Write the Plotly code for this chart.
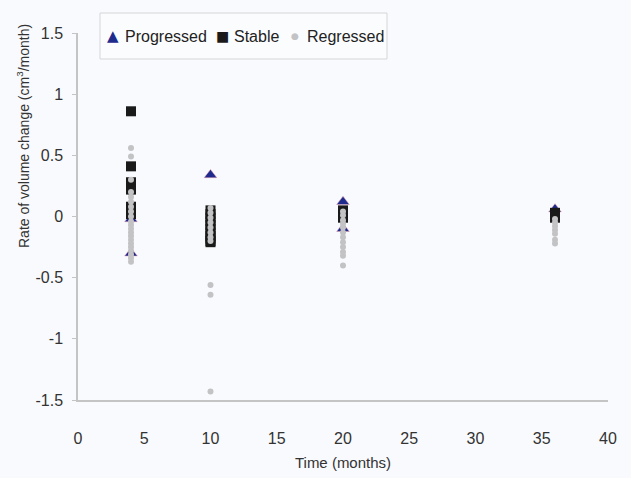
import plotly.graph_objects as go

# Rate of volume change by follow-up time, grouped by outcome
prog_x = [4, 4, 10, 20, 20, 36]
prog_y = [-0.02, -0.30, 0.34, 0.12, -0.10, 0.06]

stable_x = [4, 4, 4, 4, 4, 4, 4, 4,
            10, 10, 10, 10, 10, 10, 10, 10, 10, 10, 10,
            20, 20, 20, 20,
            36, 36, 36]
stable_y = [0.86, 0.41, 0.28, 0.25, 0.22, 0.08, 0.05, 0.02,
            0.05, 0.02, -0.01, -0.04, -0.07, -0.10, -0.13, -0.16, -0.18, -0.20, -0.21,
            0.05, 0.03, 0.01, -0.01,
            0.03, 0.01, -0.01]

reg_x = [4] * 21 + [10] * 11 + [20] * 12 + [36] * 7
reg_y = [0.56, 0.49, 0.30, 0.20, 0.16, 0.12, 0.08, 0.04, 0.00, -0.04, -0.07,
         -0.10, -0.13, -0.16, -0.19, -0.22, -0.25, -0.28, -0.31, -0.34, -0.37,
         0.07, 0.03, -0.01, -0.05, -0.09, -0.13, -0.17, -0.20, -0.56, -0.64, -1.43,
         0.04, 0.01, -0.03, -0.06, -0.09, -0.13, -0.17, -0.21, -0.25, -0.29, -0.32, -0.40,
         -0.02, -0.05, -0.08, -0.11, -0.14, -0.19, -0.22]

x_ticks = [0, 5, 10, 15, 20, 25, 30, 35, 40]
y_ticks = [-1.5, -1, -0.5, 0, 0.5, 1, 1.5]

series_names = ["Progressed", "Stable", "Regressed"]
series_colors = ["#1e2a8c", "#1a1a1a", "#c3c3c6"]
series_glyphs = ["▲", "■", "●"]

FONT = "Liberation Sans, Arial, sans-serif"
AXIS_GREY = "#c4c4c4"
BG = "#f9fafd"

# plot area in pixels, used to place the boxed key above the data
L, R, T, B = 78, 23, 33, 78
W, H = 631, 478
PW, PH = W - L - R, H - T - B


def px(x):
    return (x - L) / PW


def py(y):
    return (H - B - y) / PH


fig = go.Figure()
fig.add_trace(go.Scatter(
    x=prog_x, y=prog_y, mode="markers", name=series_names[0],
    marker=dict(symbol="triangle-up", size=11, color=series_colors[0],
                line=dict(width=0.5, color="#e8a0b0")),
))
fig.add_trace(go.Scatter(
    x=stable_x, y=stable_y, mode="markers", name=series_names[1],
    marker=dict(symbol="square", size=10, color=series_colors[1]),
))
fig.add_trace(go.Scatter(
    x=reg_x, y=reg_y, mode="markers", name=series_names[2],
    marker=dict(symbol="circle", size=6, color=series_colors[2]),
))

# key: glyph + label, laid out in a single boxed row
key_glyph_x = [113, 222, 295]
key_text_x = [123, 232, 305]
key_glyph_size = [15, 14, 9]
key_y = 36
annotations = []
for name, color, glyph, gx, tx, gs in zip(series_names, series_colors, series_glyphs,
                                          key_glyph_x, key_text_x, key_glyph_size):
    annotations.append(dict(
        text=glyph, xref="paper", yref="paper", x=px(gx), y=py(key_y),
        xanchor="center", yanchor="middle", showarrow=False,
        font=dict(family="DejaVu Sans", size=gs, color=color)))
    annotations.append(dict(
        text=name, xref="paper", yref="paper", x=px(tx), y=py(key_y),
        xanchor="left", yanchor="middle", showarrow=False,
        font=dict(family=FONT, size=16, color="#222222")))

annotations.append(dict(
    text="Rate of volume change (cm<sup>3</sup>/month)", textangle=-90,
    xref="paper", yref="paper", x=px(23), y=py(136),
    xanchor="center", yanchor="middle", showarrow=False,
    font=dict(family=FONT, size=14, color="#333333")))

fig.update_layout(
    width=W, height=H,
    margin=dict(l=L, r=R, t=T, b=B, autoexpand=False),
    paper_bgcolor=BG, plot_bgcolor=BG,
    font=dict(family=FONT, size=16, color="#333333"),
    showlegend=False,
    xaxis=dict(
        range=[0, 40], tickvals=x_ticks, ticktext=[str(v) for v in x_ticks],
        showgrid=False, zeroline=False, showline=True, linecolor=AXIS_GREY,
        linewidth=1.5, ticks="", ticklabelstandoff=23, automargin=False,
        title=dict(text="Time (months)", font=dict(family=FONT, size=15, color="#333333"),
                   standoff=12),
    ),
    yaxis=dict(
        range=[-1.5, 1.5], tickvals=y_ticks,
        ticktext=["-1.5", "-1", "-0.5", "0", "0.5", "1", "1.5"],
        showgrid=False, zeroline=False, showline=True, linecolor=AXIS_GREY,
        linewidth=1.5, ticks="outside", ticklen=4, tickcolor=AXIS_GREY,
        ticklabelstandoff=6, automargin=False,
    ),
    shapes=[
        dict(type="rect", xref="paper", yref="paper",
             x0=px(100), x1=px(387), y0=py(59), y1=py(13),
             line=dict(color="#d6d6d8", width=1), fillcolor="rgba(255,255,255,0.35)",
             layer="below"),
    ],
    annotations=annotations,
)

fig.write_html("out.html")
